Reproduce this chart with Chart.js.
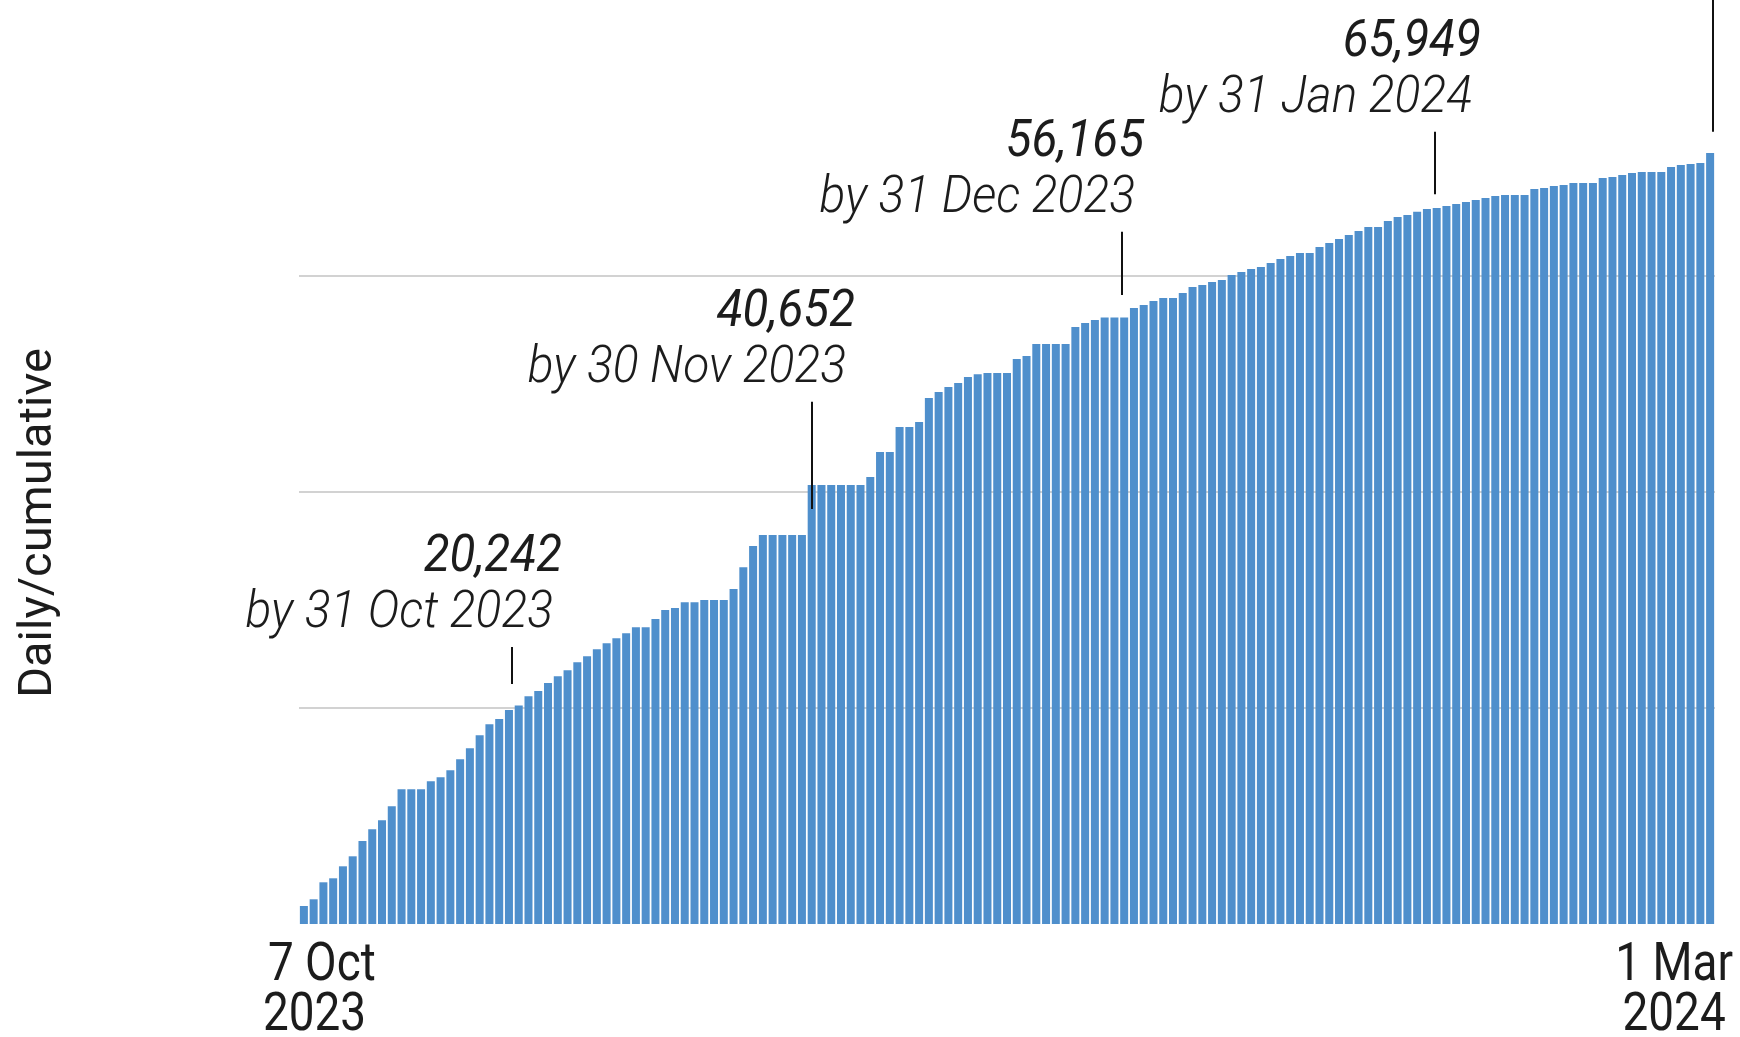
<!DOCTYPE html>
<html lang="en">
<head>
  <meta charset="UTF-8">
  <title>Daily/cumulative</title>
  <script src="https://cdn.jsdelivr.net/npm/chart.js"></script>
  <style>
    html, body { margin: 0; padding: 0; background: #ffffff; }
    #wrap { width: 1740px; height: 1037px; }
  </style>
</head>
<body>
  <div id="wrap"><canvas id="cumulativeChart" width="1740" height="1037"></canvas></div>

  <script>
    // cumulative total, one bar per day
    const totals = [
      1667, 2287, 3861, 4231, 5342, 6268, 7685, 8768, 9602, 10898,
      12472, 12472, 12472, 13213, 13583, 14231, 15250, 16268, 17472, 18490,
      18981, 19815, 20242, 21083, 21574, 22314, 22935, 23490, 24231, 24787,
      25435, 25990, 26453, 26916, 27472, 27472, 28241, 29074, 29259, 29787,
      29787, 29995, 29995, 29995, 31018, 33027, 35000, 36018, 36018, 36018,
      36018, 36018, 40652, 40652, 40652, 40652, 40652, 40652, 41389, 43703,
      43703, 46018, 46018, 46481, 48703, 49259, 49722, 50092, 50648, 50898,
      51018, 51018, 51018, 52314, 52592, 53703, 53703, 53703, 53703, 55277,
      55647, 55925, 56165, 56165, 56165, 57036, 57314, 57684, 57962, 57962,
      58425, 58981, 59166, 59444, 59629, 60092, 60370, 60647, 60833, 61203,
      61573, 61851, 62129, 62129, 62684, 63055, 63425, 63795, 64166, 64536,
      64536, 65092, 65462, 65647, 65949, 66203, 66295, 66480, 66665, 66850,
      67035, 67220, 67406, 67498, 67498, 67498, 68054, 68146, 68331, 68424,
      68609, 68609, 68609, 69072, 69165, 69350, 69535, 69628, 69628, 69628,
      70091, 70276, 70369, 70461, 71387
    ];
    const days = totals.map((_, i) => i);

    const gridValues = [20000, 40000, 60000];
    const yTitle = 'Daily/cumulative';
    const startLabel = ['7 Oct', '2023'];
    const endLabel = ['1 Mar', '2024'];

    const calloutNumbers = ['20,242', '40,652', '56,165', '65,949', ''];
    const calloutDates = ['by 31 Oct 2023', 'by 30 Nov 2023', 'by 31 Dec 2023', 'by 31 Jan 2024', ''];

    const yMax = 85556;

    // where each callout sits: bar position, line ends (in data units), text offset
    const calloutPlace = [
      { at: 21.3, top: 25650, bottom: 22220, dx: 41 },
      { at: 52, top: 48360, bottom: 38425, dx: 34 },
      { at: 83.8, top: 64100, bottom: 58240, dx: 13 },
      { at: 115.8, top: 73360, bottom: 67560, dx: 37 },
      { at: 144.3, top: yMax, bottom: 73360, dx: 0 }
    ];

    const INK = '#1c1c1c';

    function squeezeText(ctx, str, x, y, font, align, sx) {
      ctx.save();
      ctx.font = font;
      ctx.fillStyle = INK;
      ctx.textAlign = align;
      ctx.textBaseline = 'alphabetic';
      ctx.translate(x, y);
      ctx.scale(sx, 1);
      ctx.fillText(str, 0, 0);
      ctx.restore();
    }

    const labelsPlugin = {
      id: 'labels',
      beforeDatasetsDraw(chart) {
        // light horizontal guides at 20k steps
        const ctx = chart.ctx;
        const ys = chart.scales.y;
        const area = chart.chartArea;
        ctx.save();
        ctx.strokeStyle = '#d2d2d2';
        ctx.lineWidth = 2;
        gridValues.forEach(v => {
          const y = Math.round(ys.getPixelForValue(v));
          ctx.beginPath();
          ctx.moveTo(area.left, y);
          ctx.lineTo(area.right, y);
          ctx.stroke();
        });
        ctx.restore();
      },
      afterDatasetsDraw(chart) {
        const ctx = chart.ctx;
        const xs = chart.scales.x;
        const ys = chart.scales.y;

        // callout lines and texts
        calloutPlace.forEach((p, i) => {
          const x = Math.round(xs.getPixelForValue(p.at));
          const yTop = ys.getPixelForValue(p.top);
          const yBot = ys.getPixelForValue(p.bottom);
          ctx.save();
          ctx.strokeStyle = '#111111';
          ctx.lineWidth = 2;
          ctx.beginPath();
          ctx.moveTo(x, yTop);
          ctx.lineTo(x, yBot);
          ctx.stroke();
          ctx.restore();

          if (calloutDates[i]) {
            const base = yTop - 20;
            squeezeText(ctx, calloutDates[i], x + p.dx, base, 'italic 300 51px Roboto', 'right', 0.94);
            squeezeText(ctx, calloutNumbers[i], x + p.dx + 9, base - 56, 'italic 400 51px Roboto', 'right', 0.93);
          }
        });

        // first and last date under the bars
        const x0 = xs.getPixelForValue(0);
        const x1 = xs.getPixelForValue(days.length - 1);
        squeezeText(ctx, startLabel[0], x0 - 36, 980, '400 54px Roboto', 'left', 0.85);
        squeezeText(ctx, startLabel[1], x0 - 41, 1030, '400 54px Roboto', 'left', 0.85);
        squeezeText(ctx, endLabel[0], x1 - 36, 980, '400 54px Roboto', 'center', 0.85);
        squeezeText(ctx, endLabel[1], x1 - 36, 1030, '400 54px Roboto', 'center', 0.85);

        // y axis title
        ctx.save();
        ctx.font = '400 47px Roboto';
        ctx.fillStyle = INK;
        ctx.textAlign = 'center';
        ctx.textBaseline = 'alphabetic';
        ctx.translate(51, 523);
        ctx.rotate(-Math.PI / 2);
        ctx.fillText(yTitle, 0, 0);
        ctx.restore();
      }
    };

    new Chart(document.getElementById('cumulativeChart'), {
      type: 'bar',
      data: {
        labels: days,
        datasets: [{
          data: totals,
          backgroundColor: '#4f8fcc',
          borderWidth: 0,
          barPercentage: 0.82,
          categoryPercentage: 1.0
        }]
      },
      options: {
        responsive: false,
        animation: false,
        devicePixelRatio: 1,
        layout: { padding: { left: 299, right: 25, top: 0, bottom: 113 } },
        scales: {
          x: { display: false },
          y: {
            display: false,
            min: 0,
            max: yMax
          }
        },
        plugins: {
          legend: { display: false },
          tooltip: { enabled: false }
        }
      },
      plugins: [labelsPlugin]
    });
  </script>
</body>
</html>
